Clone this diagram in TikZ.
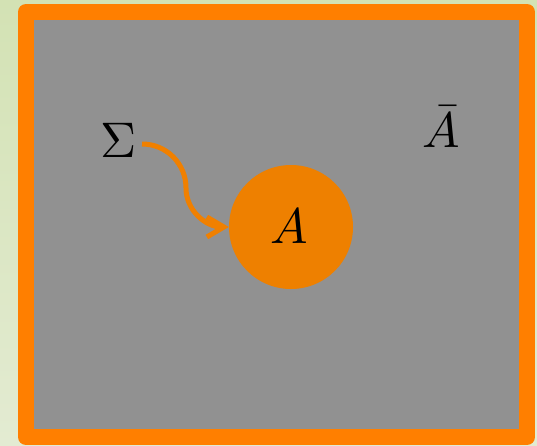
\documentclass[tikz,border=0pt]{standalone}
\usetikzlibrary{arrows.meta}
\definecolor{bgtop}{HTML}{D3E2B4}
\definecolor{bgbot}{HTML}{E3EBD2}
\definecolor{boxgray}{HTML}{919191}
\definecolor{frameorange}{HTML}{FF7F00}
\definecolor{discorange}{HTML}{EE8000}
\definecolor{arroworange}{HTML}{F08000}
\tikzset{
  biglabel/.style={inner sep=0pt, scale=5, transform shape},
  frame/.style={draw=frameorange, fill=boxgray, line width=16pt, line join=round},
  disc/.style={circle, fill=discorange, minimum size=124pt, inner sep=0pt},
  wavy/.style={draw=arroworange, line width=5pt, -{Straight Barb[length=17pt,width=20pt,line width=5pt]}}
}
\begin{document}
\begin{tikzpicture}[x=1pt,y=-1pt]
\useasboundingbox (0,0) rectangle (537,445);
\shade[top color=bgtop, bottom color=bgbot] (0,0) rectangle (537,445);
\draw[frame] (26,12) rectangle (527,437);
\node[disc] (a) at (291,227) {};
\node[biglabel] (alab) at (289,226) {$A$};
\node[biglabel] (s) at (119,140) {$\Sigma$};
\node[biglabel] (abar) at (441,127) {$\bar{A}$};
\coordinate (mid) at (186,188);
\draw[wavy] (s.east) ++(4,4) to[out=0,in=90] (mid) to[out=-90,in=180] (a.west);
\end{tikzpicture}
\end{document}
